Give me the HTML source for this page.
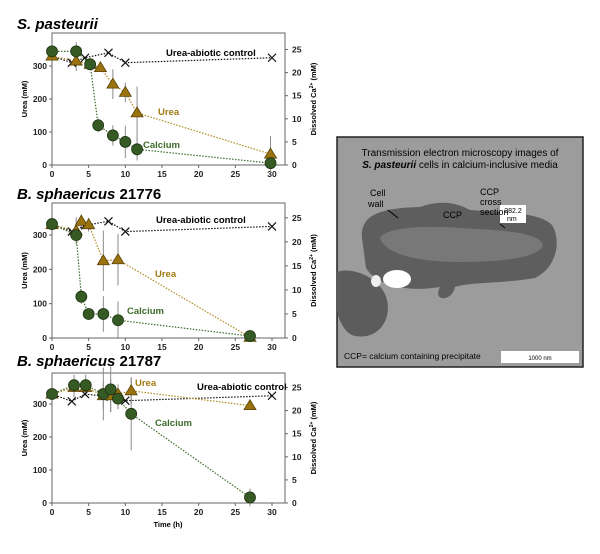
<!DOCTYPE html>
<html><head><meta charset="utf-8"><style>
body{margin:0;background:#fff;font-family:"Liberation Sans",sans-serif}
svg text{font-family:"Liberation Sans",sans-serif}
</style></head><body>
<svg id="fig" width="600" height="549" viewBox="0 0 600 549" xmlns="http://www.w3.org/2000/svg">
<g>
<rect x="337" y="137" width="246" height="230" fill="#9c9c9c" stroke="#222" stroke-width="1.5"/>
<path d="M362 238 C360 215 380 208 420 207 C440 200 455 202 470 210 C500 212 540 212 552 225 C562 242 556 268 535 278 C500 284 470 282 455 287 C452 302 432 302 440 287 C410 292 378 287 366 268 Z" fill="#5e5e5e"/>
<path d="M380 238 C385 228 420 225 460 228 C500 230 540 232 543 245 C540 258 500 262 460 262 C420 262 385 255 380 238Z" fill="#7e7e7e" opacity="0.8"/>
<path d="M337 272 C352 266 382 278 387 300 C392 322 376 340 355 336 C345 334 340 322 337 312Z" fill="#5c5c5c"/>
<ellipse cx="397" cy="279" rx="14" ry="9" fill="#fff"/>
<ellipse cx="376" cy="281" rx="5" ry="6" fill="#eee"/>
<rect x="500" y="205" width="26" height="18" fill="#fff"/>
<text x="513" y="213" font-size="7" text-anchor="middle" fill="#000">282.2</text>
<text x="507" y="221" font-size="7" fill="#000">nm</text>
<text x="460" y="156" font-size="10" text-anchor="middle" fill="#000">Transmission electron microscopy images of</text>
<text x="460" y="168" font-size="10" text-anchor="middle" fill="#000"><tspan font-weight="bold" font-style="italic">S. pasteurii</tspan> cells in calcium-inclusive media</text>
<text x="370" y="196" font-size="9" fill="#000">Cell</text><text x="368" y="207" font-size="9" fill="#000">wall</text>
<line x1="388" y1="210" x2="398" y2="218" stroke="#000"/>
<text x="443" y="218" font-size="9" fill="#000">CCP</text>
<text x="480" y="195" font-size="9" fill="#000">CCP</text><text x="480" y="205" font-size="9" fill="#000">cross</text><text x="480" y="215" font-size="9" fill="#000">section</text>
<line x1="500" y1="224" x2="505" y2="228" stroke="#000"/>
<text x="344" y="359" font-size="8.5" fill="#000">CCP= calcium containing precipitate</text>
<rect x="501" y="351" width="78" height="12" fill="#fff"/>
<text x="540" y="360" font-size="6" text-anchor="middle" fill="#000">1000 nm</text>
</g>
</svg>
<script>
// panel 1: S. pasteurii
const p1CtrlT=[0,2.7,4.5,7.7,10,30];
const p1CtrlU=[330,310,325,340,310,325];
const p1UreaT=[0,3.3,5.2,6.6,8.3,10,11.6,29.8];
const p1UreaU=[330,315,305,295,245,220,158,33];
const p1UreaE=[10,30,10,10,45,30,80,55];
const p1CaT=[0,3.3,5.2,6.3,8.3,10,11.6,29.8];
const p1CaV=[24.6,24.6,21.8,8.6,6.4,5,3.4,0.4];
const p1CaE=[0.5,2,1,1.5,2.2,3.5,2.4,0.3];
// panel 2: B. sphaericus 21776
const p2CtrlT=[0,2.7,4.5,7.7,10,30];
const p2CtrlU=[330,310,328,340,310,325];
const p2UreaT=[0,3.3,4,5,7,9,27];
const p2UreaU=[330,312,340,330,225,228,2];
const p2UreaE=[10,40,20,20,88,75,5];
const p2CaT=[0,3.3,4,5,7,9,27];
const p2CaV=[23.7,21.4,8.6,5,5,3.7,0.4];
const p2CaE=[0.5,1,1.5,0.5,3.7,3.9,0.3];
// panel 3: B. sphaericus 21787
const p3CtrlT=[0,2.7,4.5,8,10,30];
const p3CtrlU=[330,308,330,322,310,325];
const p3UreaT=[0,3,4.6,7,8,9,10.8,27];
const p3UreaU=[330,350,350,325,325,330,340,295];
const p3UreaE=[10,30,20,40,50,30,40,5];
const p3CaT=[0,3,4.6,7,8,9,10.8,27];
const p3CaV=[23.6,25.5,25.5,23.6,24.6,22.6,19.3,1.2];
const p3CaE=[0.5,2.3,2.3,5.7,4.9,2.3,7.9,1.9];
const xTicks=[0,5,10,15,20,25,30];
const yTicks=[0,100,200,300];
const y2Ticks=[0,5,10,15,20,25];
const NS="http://www.w3.org/2000/svg";
const svg=document.getElementById('fig');
function el(tag,attrs,parent){const e=document.createElementNS(NS,tag);for(const k in attrs)e.setAttribute(k,attrs[k]);(parent||svg).appendChild(e);return e;}
function panel(cfg){
 const g=el('g',{});
 
 
 const L=52,R=285,T=cfg.top,B=cfg.bottom;
 const x0=52,x30=272;
 const sx=t=>x0+(x30-x0)*t/30;
 const sy=u=>B-(B-cfg.y300)*u/300;
 const sy2=c=>sy(c*14);
 const t=el('text',{x:17,y:cfg.titleY,'font-size':15,'font-weight':'bold',fill:'#000'},g);
 t.innerHTML=cfg.title;
 
 
 el('rect',{x:L,y:T,width:R-L,height:B-T,fill:'none',stroke:'#666','stroke-width':1},g);
 xTicks.forEach(v=>{el('line',{x1:sx(v),x2:sx(v),y1:B,y2:B+3,stroke:'#666'},g);
  const tx=el('text',{x:sx(v),y:B+12,'font-size':8.5,'font-weight':'bold','text-anchor':'middle',fill:'#222'},g);tx.textContent=v;
  
  });
 yTicks.forEach(v=>{el('line',{x1:L-3,x2:L,y1:sy(v),y2:sy(v),stroke:'#666'},g);
  const tx=el('text',{x:L-5,y:sy(v)+3,'font-size':8.5,'font-weight':'bold','text-anchor':'end',fill:'#222'},g);tx.textContent=v;
  
  });
 y2Ticks.forEach(v=>{el('line',{x1:R,x2:R+3,y1:sy2(v),y2:sy2(v),stroke:'#666'},g);
  const tx=el('text',{x:R+7,y:sy2(v)+3,'font-size':8.5,'font-weight':'bold',fill:'#222'},g);tx.textContent=v;
  
  });
 const yl=el('text',{x:0,y:0,'font-size':7.5,'font-weight':'bold','text-anchor':'middle',transform:`translate(27,${(T+B)/2}) rotate(-90)`,fill:'#000'},g);yl.textContent='Urea (mM)';
 
 
 const y2=el('text',{x:0,y:0,'font-size':7.5,'font-weight':'bold','text-anchor':'middle',transform:`translate(316,${(T+B)/2}) rotate(-90)`,fill:'#000'},g);y2.innerHTML='Dissolved Ca<tspan font-size="5" dy="-3">2+</tspan><tspan dy="3"> (mM)</tspan>';
 
 
 const pts=(T2,V,f)=>T2.map((v,i)=>sx(v)+','+f(V[i])).join(' ');
 cfg.ut.forEach((v,i)=>el('line',{x1:sx(v),x2:sx(v),y1:sy(cfg.uu[i]-cfg.ue[i]),y2:sy(cfg.uu[i]+cfg.ue[i]),stroke:'#8a8a8a','stroke-width':1},g));
 cfg.ct.forEach((v,i)=>el('line',{x1:sx(v),x2:sx(v),y1:sy2(cfg.cv[i]-cfg.ce[i]),y2:sy2(cfg.cv[i]+cfg.ce[i]),stroke:'#8a8a8a','stroke-width':1},g));
 const l1=el('polyline',{points:pts(cfg.kt,cfg.ku,sy),fill:'none',stroke:'#111','stroke-width':1.2,'stroke-dasharray':'1.5,1.5'},g);
 
 
 const l2=el('polyline',{points:pts(cfg.ut,cfg.uu,sy),fill:'none',stroke:'#b08a20','stroke-width':1.2,'stroke-dasharray':'1.5,1.5'},g);
 
 
 const l3=el('polyline',{points:pts(cfg.ct,cfg.cv,sy2),fill:'none',stroke:'#3e6b2a','stroke-width':1.2,'stroke-dasharray':'1.5,1.5'},g);
 
 
 cfg.kt.forEach((v,i)=>{const x=sx(v),y=sy(cfg.ku[i]);
  const m=el('path',{d:`M${x-4} ${y-4}L${x+4} ${y+4}M${x-4} ${y+4}L${x+4} ${y-4}`,stroke:'#111','stroke-width':1.2},g);
  
  });
 cfg.ut.forEach((v,i)=>{const x=sx(v),y=sy(cfg.uu[i]);
  const m=el('polygon',{points:`${x},${y-6} ${x-6},${y+4} ${x+6},${y+4}`,fill:'#9a730e',stroke:'#5a4208','stroke-width':0.8},g);
  
  });
 cfg.ct.forEach((v,i)=>{
  const m=el('circle',{cx:sx(v),cy:sy2(cfg.cv[i]),r:5.5,fill:'#355a24',stroke:'#1e3312','stroke-width':0.8},g);
  
  });
 const lab=(txt,x,y,c,n)=>{const e=el('text',{x:x,y:y,'font-size':9.5,'font-weight':'bold',fill:c},g);e.textContent=txt;
  
  };
 lab('Urea-abiotic control',cfg.lc[0],cfg.lc[1],'#000','control-label');
 lab('Urea',cfg.lu[0],cfg.lu[1],'#a07a10','urea-label');
 lab('Calcium',cfg.lca[0],cfg.lca[1],'#3e6b2a','calcium-label');
 if(cfg.time){const e=el('text',{x:168,y:527,'font-size':7.5,'font-weight':'bold','text-anchor':'middle',fill:'#000'},g);e.textContent='Time (h)';
  
  }
}
panel({name:'panel-s-pasteurii',title:'<tspan font-style="italic">S. pasteurii</tspan>',titleY:29,top:33,bottom:165,y300:66,
 kt:p1CtrlT,ku:p1CtrlU,ut:p1UreaT,uu:p1UreaU,ue:p1UreaE,ct:p1CaT,cv:p1CaV,ce:p1CaE,lc:[166,56],lu:[158,115],lca:[143,148]});
panel({name:'panel-b-sphaericus-21776',title:'<tspan font-style="italic">B. sphaericus</tspan> 21776',titleY:199,top:203,bottom:338,y300:235,
 kt:p2CtrlT,ku:p2CtrlU,ut:p2UreaT,uu:p2UreaU,ue:p2UreaE,ct:p2CaT,cv:p2CaV,ce:p2CaE,lc:[156,223],lu:[155,277],lca:[127,314]});
panel({name:'panel-b-sphaericus-21787',title:'<tspan font-style="italic">B. sphaericus</tspan> 21787',titleY:366,top:373,bottom:503,y300:404,time:true,
 kt:p3CtrlT,ku:p3CtrlU,ut:p3UreaT,uu:p3UreaU,ue:p3UreaE,ct:p3CaT,cv:p3CaV,ce:p3CaE,lc:[197,390],lu:[135,386],lca:[155,426]});
</script>
</body></html>
